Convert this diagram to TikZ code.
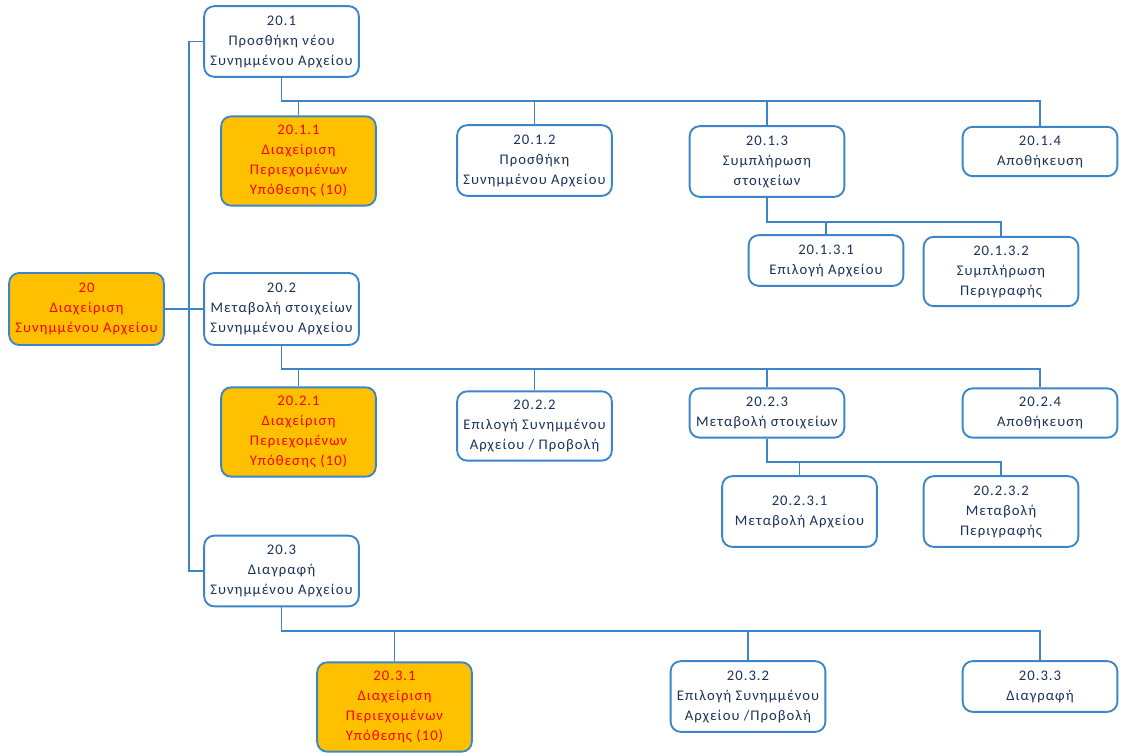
\documentclass[tikz,border=0pt]{standalone}
\usepackage{fontspec}
\setmainfont[LetterSpace=7]{Carlito}
\usetikzlibrary{positioning}
\definecolor{linkblue}{HTML}{3A86C8}
\definecolor{textnavy}{HTML}{1B3358}
\definecolor{boxorange}{HTML}{FFC000}

\begin{document}
\begin{tikzpicture}[x=0.75pt,y=-0.75pt,
  task/.style={draw=linkblue,line width=1.4pt,rounded corners=7.5pt,fill=white,
    text=textnavy,align=center,minimum width=116pt,inner sep=2pt,
    font=\fontsize{11}{15}\selectfont},
  manage/.style={task,fill=boxorange,text=red,minimum height=67pt},
  link/.style={linkblue,line width=1.1pt}]

\useasboundingbox (0,0) rectangle (1121,753);

% level 1 and 2
\node[manage,minimum height=54pt] (n20) at (86.5,309) {20\\Διαχείριση\\Συνημμένου Αρχείου};
\node[task,minimum height=53pt] (n201) at (281.5,41.5) {20.1\\Προσθήκη νέου\\Συνημμένου Αρχείου};
\node[task,minimum height=54pt] (n202) at (281.5,309) {20.2\\Μεταβολή στοιχείων\\Συνημμένου Αρχείου};
\node[task,minimum height=53pt] (n203) at (281.5,571) {20.3\\Διαγραφή\\Συνημμένου Αρχείου};

% children of 20.1
\node[manage] (n2011) at (298.5,161) {20.1.1\\Διαχείριση\\Περιεχομένων\\Υπόθεσης (10)};
\node[task,minimum height=53pt] (n2012) at (534.5,160.5) {20.1.2\\Προσθήκη\\Συνημμένου Αρχείου};
\node[task,minimum height=53pt] (n2013) at (767,161.5) {20.1.3\\Συμπλήρωση\\στοιχείων};
\node[task,minimum height=37pt] (n2014) at (1040,151.5) {20.1.4\\Αποθήκευση};
\node[task,minimum height=38pt] (n20131) at (826,260.5) {20.1.3.1\\Επιλογή Αρχείου};
\node[task,minimum height=52pt] (n20132) at (1001,271.5) {20.1.3.2\\Συμπλήρωση\\Περιγραφής};

% children of 20.2
\node[manage] (n2021) at (298.5,432) {20.2.1\\Διαχείριση\\Περιεχομένων\\Υπόθεσης (10)};
\node[task,minimum height=52pt] (n2022) at (534.5,426) {20.2.2\\Επιλογή Συνημμένου\\Αρχείου / Προβολή};
\node[task,minimum height=37pt] (n2023) at (767,413) {20.2.3\\Μεταβολή στοιχείων};
\node[task,minimum height=37pt] (n2024) at (1040,413) {20.2.4\\Αποθήκευση};
\node[task,minimum height=53pt] (n20231) at (799.5,511.5) {20.2.3.1\\Μεταβολή Αρχείου};
\node[task,minimum height=53pt] (n20232) at (1001,511.5) {20.2.3.2\\Μεταβολή\\Περιγραφής};

% children of 20.3
\node[manage] (n2031) at (394.5,707) {20.3.1\\Διαχείριση\\Περιεχομένων\\Υπόθεσης (10)};
\node[task,minimum height=53pt] (n2032) at (748,696.5) {20.3.2\\Επιλογή Συνημμένου\\Αρχείου /Προβολή};
\node[task,minimum height=38pt] (n2033) at (1040,686.5) {20.3.3\\Διαγραφή};

% bus lines
\coordinate (trunk) at (189,0);
\coordinate (bus1) at (0,101);
\coordinate (bus13) at (0,222);
\coordinate (bus2) at (0,369);
\coordinate (bus23) at (0,462);
\coordinate (bus3) at (0,631);

\draw[link] (n201.west) -- (n201.west -| trunk) -- (n203.west -| trunk) -- (n203.west);
\draw[link] (n20.east) -- (n202.west);

\draw[link] (n201.south) -- (n201.south |- bus1) -| (n2014.north);
\foreach \c in {n2011,n2012,n2013}
  \draw[link] (\c.north) -- (\c.north |- bus1);
\draw[link] (n2013.south) -- (n2013.south |- bus13) -| (n20132.north);
\draw[link] (n20131.north) -- (n20131.north |- bus13);

\draw[link] (n202.south) -- (n202.south |- bus2) -| (n2024.north);
\foreach \c in {n2021,n2022,n2023}
  \draw[link] (\c.north) -- (\c.north |- bus2);
\draw[link] (n2023.south) -- (n2023.south |- bus23) -| (n20232.north);
\draw[link] (n20231.north) -- (n20231.north |- bus23);

\draw[link] (n203.south) -- (n203.south |- bus3) -| (n2033.north);
\foreach \c in {n2031,n2032}
  \draw[link] (\c.north) -- (\c.north |- bus3);

\end{tikzpicture}
\end{document}
